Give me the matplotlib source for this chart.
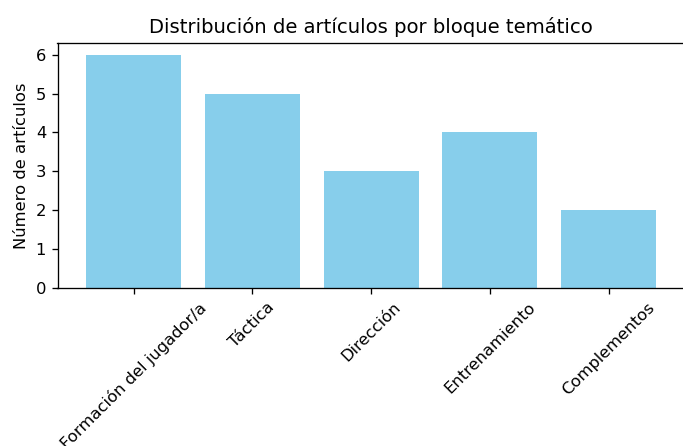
import matplotlib
matplotlib.use("Agg")
import matplotlib.pyplot as plt

# ----------------------------
# Data
# ----------------------------
bloques = ["Formación del jugador/a", "Táctica", "Dirección", "Entrenamiento", "Complementos"]
num_articulos = [6, 5, 3, 4, 2]

# ----------------------------
# Plot (the reference looks rendered at a higher dpi and cropped on the right/bottom)
# ----------------------------
W, H = 683, 446
DPI = 118
fig = plt.figure(figsize=(W / DPI, H / DPI), dpi=DPI)
ax = fig.add_axes([57.5 / W, (H - 288) / H, 627 / W, 245 / H])
ax.bar(bloques, num_articulos, color="skyblue")
plt.xticks(rotation=45)
ax.set_ylabel("Número de artículos")
ax.set_title("Distribución de artículos por bloque temático")
fig.savefig("out.png", dpi=DPI)
plt.close()
